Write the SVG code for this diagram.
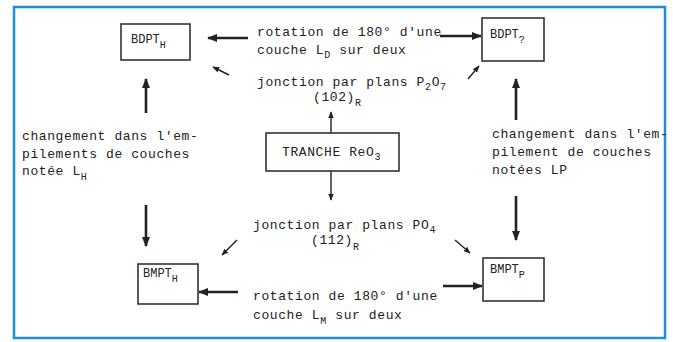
<svg xmlns="http://www.w3.org/2000/svg" width="673" height="342" viewBox="0 0 673 342">
<defs>
<marker id="ah" viewBox="0 0 10 8" refX="9" refY="4" markerWidth="4" markerHeight="3.2" orient="auto" markerUnits="strokeWidth">
<path d="M0,0 L10,4 L0,8 z" fill="#222"/>
</marker>
<marker id="ahs" viewBox="0 0 10 8" refX="9" refY="4" markerWidth="5" markerHeight="4" orient="auto" markerUnits="strokeWidth">
<path d="M0,0 L10,4 L0,8 z" fill="#222"/>
</marker>
</defs>
<style>
.box{fill:#fff;stroke:#333;stroke-width:1.6}
.t{font-family:"Liberation Mono","DejaVu Sans Mono",monospace;font-size:13px;letter-spacing:0.6px;fill:#222}
.bt{font-family:"Liberation Mono","DejaVu Sans Mono",monospace;font-size:12px;fill:#222}
.s{font-size:10px}
.big{stroke:#222;stroke-width:2.6;fill:none;marker-end:url(#ah)}
.thin{stroke:#222;stroke-width:1.4;fill:none;marker-end:url(#ahs)}
</style>
<rect x="0" y="0" width="673" height="342" fill="#fff"/>
<rect x="14" y="7" width="651" height="331" fill="#fff" stroke="#1e8fd8" stroke-width="2.5"/>

<g id="connectors">
<line class="big" x1="248" y1="38" x2="208" y2="38"/>
<line class="big" x1="440" y1="36" x2="481" y2="36"/>
<line class="big" x1="146" y1="113" x2="146" y2="79"/>
<line class="big" x1="516" y1="120" x2="516" y2="79"/>
<line class="big" x1="146" y1="205" x2="146" y2="246"/>
<line class="big" x1="516" y1="196" x2="516" y2="240"/>
<line class="big" x1="238" y1="292" x2="199" y2="292"/>
<line class="big" x1="443" y1="286" x2="482" y2="286"/>
<line class="thin" x1="331" y1="133" x2="331" y2="112"/>
<line class="thin" x1="331" y1="171" x2="331" y2="200"/>
<line class="thin" x1="229" y1="75" x2="213" y2="67"/>
<line class="thin" x1="468" y1="79" x2="479" y2="66"/>
<line class="thin" x1="237" y1="240" x2="222" y2="255"/>
<line class="thin" x1="455" y1="240" x2="470" y2="253"/>
</g>

<g id="bdpt-h">
<rect class="box" x="121" y="24" width="69" height="36"/>
<text class="bt" x="131" y="43">BDPT<tspan class="s" dy="5">H</tspan></text>
</g>
<g id="bdpt-p">
<rect class="box" x="482" y="18" width="62" height="43"/>
<text class="bt" x="490" y="38">BDPT<tspan class="s" dy="5">?</tspan></text>
</g>
<g id="tranche">
<rect class="box" x="266" y="133" width="133" height="38"/>
<text class="t" x="282" y="156">TRANCHE ReO<tspan class="s" dy="4">3</tspan></text>
</g>
<g id="bmpt-h">
<rect class="box" x="138" y="264" width="60" height="40"/>
<text class="bt" x="143" y="277">BMPT<tspan class="s" dy="5">H</tspan></text>
</g>
<g id="bmpt-p">
<rect class="box" x="483" y="258" width="61" height="43"/>
<text class="bt" x="490" y="273">BMPT<tspan class="s" dy="5">P</tspan></text>
</g>

<g id="labels">
<text class="t" x="257" y="36">rotation de 180° d'une</text>
<text class="t" x="257" y="54">couche L<tspan class="s" dy="4">D</tspan><tspan dy="-4"> sur deux</tspan></text>
<text class="t" x="257" y="86">jonction par plans P<tspan class="s" dy="4">2</tspan><tspan dy="-4">O</tspan><tspan class="s" dy="4">7</tspan></text>
<text class="t" x="313" y="101">(102)<tspan class="s" dy="5">R</tspan></text>
<text class="t" x="22" y="140">changement dans l'em-</text>
<text class="t" x="22" y="158">pilements de couches</text>
<text class="t" x="22" y="175">notée L<tspan class="s" dy="5">H</tspan></text>
<text class="t" x="492" y="138">changement dans l'em-</text>
<text class="t" x="492" y="156">pilement de couches</text>
<text class="t" x="492" y="174">notées LP</text>
<text class="t" x="253" y="229">jonction par plans PO<tspan class="s" dy="4">4</tspan></text>
<text class="t" x="311" y="244">(112)<tspan class="s" dy="6">R</tspan></text>
<text class="t" x="253" y="300">rotation de 180° d'une</text>
<text class="t" x="253" y="319">couche L<tspan class="s" dy="5">M</tspan><tspan dy="-5"> sur deux</tspan></text>
</g>
</svg>
